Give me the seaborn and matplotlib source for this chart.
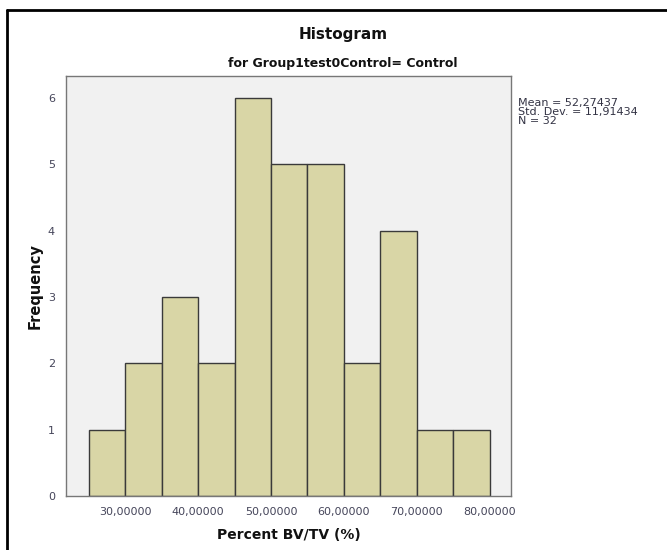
import numpy as np
import pandas as pd
import matplotlib
matplotlib.use("Agg")
import matplotlib.pyplot as plt
import seaborn as sns
from matplotlib.lines import Line2D

# Data
bin_edges = [25, 30, 35, 40, 45, 50, 55, 60, 65, 70, 75, 80]
counts = [1, 2, 3, 2, 6, 5, 5, 2, 4, 1, 1]
x_ticks = [30, 40, 50, 60, 70, 80]
x_tick_labels = ["30,00000", "40,00000", "50,00000", "60,00000", "70,00000", "80,00000"]
y_ticks = [0, 1, 2, 3, 4, 5, 6]
stats_text = "Mean = 52,27437\nStd. Dev. = 11,91434\nN = 32"

centers = [(bin_edges[i] + bin_edges[i + 1]) / 2 for i in range(len(counts))]
df = pd.DataFrame({"value": centers, "count": counts})

sns.set_style("white")
plt.rcParams["font.family"] = ["DejaVu Sans"]

fig = plt.figure(figsize=(6.67, 5.5), dpi=100)
W, H = 667, 550
ax = fig.add_axes([66 / W, 1 - 496 / H, (511 - 66) / W, (496 - 76) / H])
ax.set_facecolor("#F1F1F1")

sns.histplot(data=df, x="value", weights="count", bins=bin_edges, ax=ax,
             color="#D9D6A6", alpha=1, edgecolor="#3a3a3a", linewidth=1.0)

ax.set_xlim(21.9, 82.9)
ax.set_ylim(0, 6.33)
ax.set_xticks(x_ticks)
ax.set_xticklabels(x_tick_labels)
ax.set_yticks(y_ticks)
ax.tick_params(axis="both", direction="out", length=6, width=1, color="#555555",
               labelsize=8, labelcolor="#45455a", pad=2)
for s in ax.spines.values():
    s.set_color("#777777")
    s.set_linewidth(1.0)

ax.set_xlabel("Percent BV/TV (%)", fontsize=10, fontweight="bold", labelpad=8,
              color="#111111")
ax.set_ylabel("Frequency", fontsize=10.5, fontweight="bold", labelpad=4,
              color="#111111")

fig.text(343 / W, 1 - 35 / H, "Histogram", ha="center", va="center",
         fontsize=11, fontweight="bold", color="#111111")
fig.text(343 / W, 1 - 64 / H, "for Group1test0Control= Control", ha="center",
         va="center", fontsize=9, fontweight="bold", color="#111111")
fig.text(518 / W, 1 - 98 / H, stats_text, ha="left", va="top", fontsize=8,
         color="#333344", linespacing=0.9)

# outer frame lines (top and left)
fig.add_artist(Line2D([7 / W, 1], [1 - 10 / H, 1 - 10 / H], color="black", lw=2,
                      transform=fig.transFigure))
fig.add_artist(Line2D([7 / W, 7 / W], [0, 1 - 10 / H], color="black", lw=2,
                      transform=fig.transFigure))

fig.savefig("out.png", dpi=100)
